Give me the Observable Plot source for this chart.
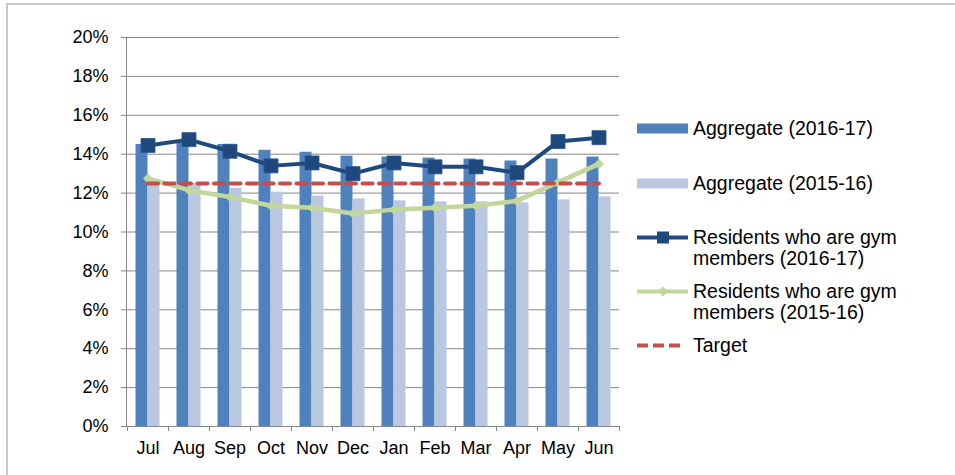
<!DOCTYPE html>
<html>
<head>
<meta charset="utf-8">
<script src="https://cdn.jsdelivr.net/npm/d3@7"></script>
<script src="https://cdn.jsdelivr.net/npm/@observablehq/plot@0.6"></script>
<style>
  html, body { margin: 0; padding: 0; background: #fff; }
  #wrap { position: relative; width: 955px; height: 475px; overflow: hidden;
          font-family: "Liberation Sans", Arial, sans-serif; font-size: 18px; color: #000; }
  #wrap svg.plot { position: absolute; left: 0; top: 0; }
  #border { position: absolute; left: 6px; top: 3px; width: 1000px; height: 500px;
            border-top: 2px solid #C8C8C8; border-left: 2px solid #C8C8C8; }
  .leg { position: absolute; left: 637px; display: flex; align-items: flex-start; }
  .leg svg { flex: none; }
  .leg span { display: block; margin-left: 5px; line-height: 21px; font-size: 19.5px; white-space: nowrap; }
</style>
</head>
<body>
<div id="wrap"><div id="border"></div></div>
<script>
// ---- data (percent) ----
const months = ["Jul","Aug","Sep","Oct","Nov","Dec","Jan","Feb","Mar","Apr","May","Jun"];
const aggregate1617 = [14.5, 14.6, 14.5, 14.2, 14.1, 13.9, 13.85, 13.8, 13.75, 13.65, 13.75, 13.85];
const aggregate1516 = [12.7, 12.5, 12.25, 12.05, 11.85, 11.7, 11.6, 11.55, 11.55, 11.5, 11.65, 11.8];
const gym1617 = [14.45, 14.75, 14.15, 13.4, 13.55, 13.0, 13.55, 13.35, 13.35, 13.05, 14.65, 14.85];
const gym1516 = [12.75, 12.15, 11.8, 11.35, 11.25, 10.95, 11.15, 11.25, 11.35, 11.6, 12.55, 13.5];
const targetValue = 12.5;
const yTicks = [0, 2, 4, 6, 8, 10, 12, 14, 16, 18, 20];
const seriesNames = ["Aggregate (2016-17)", "Aggregate (2015-16)",
  "Residents who are gym members (2016-17)", "Residents who are gym members (2015-16)", "Target"];

const C = {dark: "#4F81BD", light: "#B9C7E1", navy: "#1F497D", green: "#C3D69B", red: "#C0504D", grid: "#868686"};

const rows = months.map((m, i) => ({month: m, a17: aggregate1617[i], a16: aggregate1516[i],
  g17: gym1617[i], g16: gym1516[i], target: targetValue}));

const chart = Plot.plot({
  width: 955, height: 475,
  marginLeft: 126, marginRight: 336, marginTop: 37, marginBottom: 49,
  style: {fontFamily: "'Liberation Sans', Arial, sans-serif", fontSize: "18px", color: "#000", background: "transparent"},
  x: {domain: months, padding: 0, label: null},
  y: {domain: [0, 20], label: null},
  marks: [
    Plot.gridY(yTicks, {stroke: C.grid, strokeOpacity: 1}),
    Plot.frame({anchor: "left", stroke: C.grid}),
    Plot.axisY(yTicks, {tickSize: 5, tickPadding: 13, stroke: C.grid, tickFormat: d => d + "%", label: null}),
    Plot.axisX({tickSize: 0, tickPadding: 15, label: null}),
    Plot.barY(rows, {x: "month", y: "a17", fill: C.dark, insetLeft: 8.5, insetRight: 20.5}),
    Plot.barY(rows, {x: "month", y: "a16", fill: C.light, insetLeft: 20.5, insetRight: 8.5}),
    Plot.line(rows, {x: "month", y: "g17", stroke: C.navy, strokeWidth: 4}),
    Plot.dot(rows, {x: "month", y: "g17", symbol: "square", r: 7.9, fill: C.navy, stroke: "#2A5590", strokeWidth: 0.8}),
    Plot.line(rows, {x: "month", y: "g16", stroke: C.green, strokeWidth: 4.5}),
    Plot.dot(rows, {x: "month", y: "g16", symbol: "diamond2", r: 4.5, fill: C.green}),
    Plot.line(rows, {x: "month", y: "target", stroke: C.red, strokeWidth: 4, strokeDasharray: "10,6.5"})
  ]
});
chart.classList.add("plot");
document.getElementById("wrap").appendChild(chart);

// category boundary ticks on the x axis, from Plot's own scales
const xs = chart.scale("x"), ys = chart.scale("y");
const y0 = ys.apply(0);
const bounds = months.map(m => xs.apply(m)).concat([xs.apply(months[months.length - 1]) + xs.bandwidth]);
const svg = d3.select(chart);
svg.append("g").selectAll("line").data(bounds).join("line")
  .attr("x1", d => d).attr("x2", d => d).attr("y1", y0).attr("y2", y0 + 5)
  .attr("stroke", C.grid).attr("shape-rendering", "crispEdges");

// legend
const wrap = document.getElementById("wrap");
function item(top, swatch, text) {
  const d = document.createElement("div");
  d.className = "leg";
  d.style.top = top + "px";
  d.innerHTML = swatch + "<span>" + text + "</span>";
  wrap.appendChild(d);
}
const barSw = col => `<svg width="51" height="21"><rect x="0" y="5.5" width="51" height="10" fill="${col}"/></svg>`;
item(118, barSw(C.dark), seriesNames[0]);
item(173, barSw(C.light), seriesNames[1]);
item(227, `<svg width="51" height="21"><line x1="0" x2="51" y1="10.5" y2="10.5" stroke="${C.navy}" stroke-width="4"/><rect x="20" y="4.5" width="12" height="12" fill="${C.navy}"/></svg>`,
  "Residents who are gym<br>members (2016-17)");
item(281, `<svg width="51" height="21"><line x1="0" x2="51" y1="10.5" y2="10.5" stroke="${C.green}" stroke-width="4"/><path d="M26,5.5 L31,10.5 L26,15.5 L21,10.5Z" fill="${C.green}"/></svg>`,
  "Residents who are gym<br>members (2015-16)");
item(335, `<svg width="51" height="21"><line x1="0" x2="48" y1="10.5" y2="10.5" stroke="${C.red}" stroke-width="4" stroke-dasharray="11,5"/></svg>`, seriesNames[4]);
</script>
</body>
</html>
